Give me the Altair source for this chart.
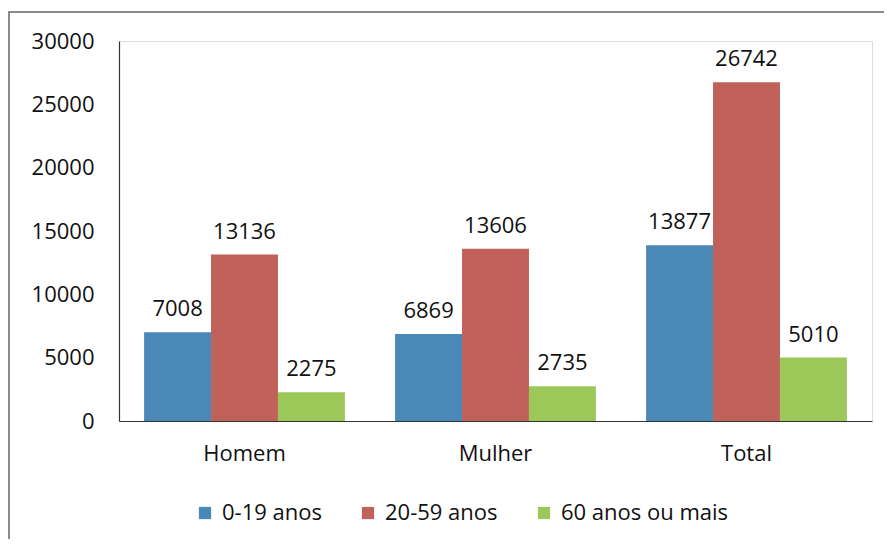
import altair as alt
import pandas as pd

groups = ["Homem", "Mulher", "Total"]
series = ["0-19 anos", "20-59 anos", "60 anos ou mais"]
v_0_19 = [7008, 6869, 13877]
v_20_59 = [13136, 13606, 26742]
v_60 = [2275, 2735, 5010]
colors = ["#4a88b8", "#c0625a", "#9cc85a"]
y_ticks = [0, 5000, 10000, 15000, 20000, 25000, 30000]

rows = []
for i, g in enumerate(groups):
    for s, vals in zip(series, [v_0_19, v_20_59, v_60]):
        rows.append({"grupo": g, "faixa": s, "valor": vals[i]})
df = pd.DataFrame(rows)

FONT = "Open Sans"
FS = 22

x = alt.X("grupo:N", sort=groups, title=None,
          scale=alt.Scale(paddingInner=0.2, paddingOuter=0.1),
          axis=alt.Axis(labelAngle=0, labelFontSize=FS, labelColor="#111",
                        labelFont=FONT, ticks=False, labelPadding=22,
                        domainColor="#333", domainWidth=1.2))
y = alt.Y("valor:Q", title=None,
          scale=alt.Scale(domain=[0, 30000], nice=False),
          axis=alt.Axis(values=y_ticks, format="d", grid=False, ticks=False,
                        labelFontSize=FS, labelFont=FONT, labelColor="#111",
                        labelPadding=25, domainColor="#333", domainWidth=1.2))
xo = alt.XOffset("faixa:N", sort=series)
color = alt.Color("faixa:N", sort=series,
                  scale=alt.Scale(domain=series, range=colors),
                  legend=alt.Legend(title=None, orient="none", direction="horizontal",
                                    legendX=75, legendY=461,
                                    symbolType="square", symbolSize=150,
                                    symbolStrokeWidth=0, labelFontSize=FS,
                                    labelFont=FONT, labelColor="#111",
                                    labelLimit=0,
                                    columnPadding=35, labelOffset=6))

base = alt.Chart(df)
bars = base.mark_bar().encode(x=x, y=y, xOffset=xo, color=color)
labels = base.mark_text(baseline="bottom", dy=-11, fontSize=FS, font=FONT,
                        color="#111").encode(x=x, y=y, xOffset=xo, text="valor:Q")

frame = alt.Chart(pd.DataFrame({"k": [0]})).mark_rect(
    fill=None, stroke="#666", strokeWidth=1.5).encode(
    x=alt.value(-110), x2=alt.value(771), y=alt.value(-29), y2=alt.value(520))

chart = alt.layer(bars, labels, frame).properties(
    width=753, height=380,
    autosize=alt.AutoSizeParams(type="none"),
    padding={"left": 111, "top": 33, "right": 12, "bottom": 118},
).configure_view(stroke=None).configure(background="white")

chart.save("out.html", embed_options={"renderer": "svg", "actions": False})
